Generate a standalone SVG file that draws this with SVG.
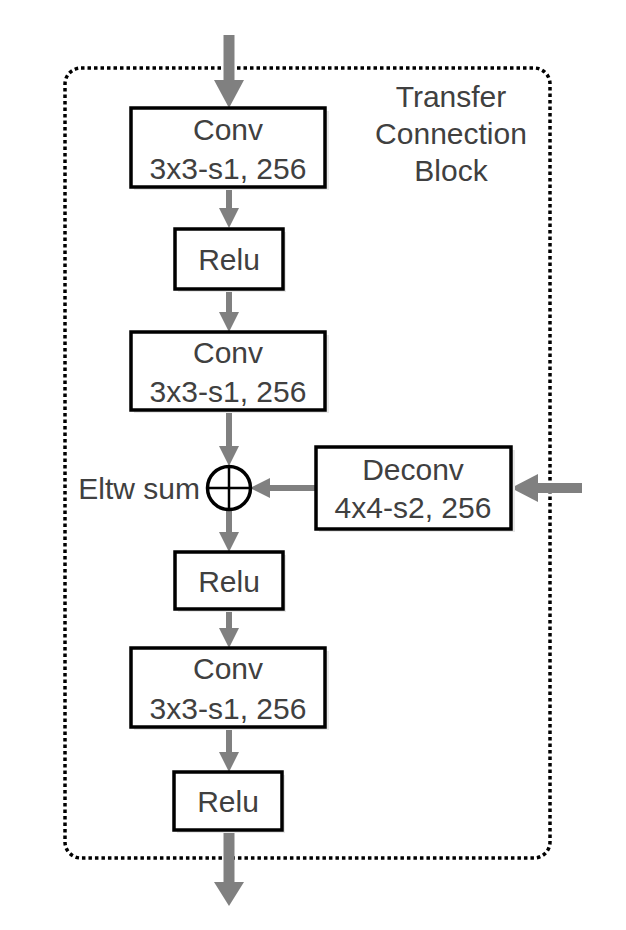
<svg xmlns="http://www.w3.org/2000/svg" width="626" height="930" viewBox="0 0 626 930">
<style>
.box{fill:#fff;stroke:#000;stroke-width:3.5}
.sh{fill:#e8e8e8}
.t{font-family:"Liberation Sans",Arial,sans-serif;font-size:30px;fill:#404040;text-anchor:middle}
.ln{stroke:#808080;fill:none}
.hd{fill:#808080}
</style>
<rect x="0" y="0" width="626" height="930" fill="#fff"/>
<rect x="65" y="68" width="485" height="790" rx="16" fill="none" stroke="#000" stroke-width="3.5" stroke-dasharray="3.5,3"/>
<g id="title"><text class="t" x="451" y="107">Transfer</text><text class="t" x="451" y="144">Connection</text><text class="t" x="451" y="181">Block</text></g>
<g id="connectors">
<line class="ln" x1="229" y1="35" x2="229" y2="84" stroke-width="11"/><polygon class="hd" points="214,80 244,80 229,108"/>
<line class="ln" x1="229" y1="187" x2="229" y2="212" stroke-width="6"/><polygon class="hd" points="219,208 239,208 229,228"/>
<line class="ln" x1="229" y1="289" x2="229" y2="316" stroke-width="6"/><polygon class="hd" points="219,312 239,312 229,332"/>
<line class="ln" x1="229" y1="410" x2="229" y2="450" stroke-width="6"/><polygon class="hd" points="219,446 239,446 229,466"/>
<line class="ln" x1="229" y1="510" x2="229" y2="536" stroke-width="6"/><polygon class="hd" points="219,532 239,532 229,552"/>
<line class="ln" x1="229" y1="609" x2="229" y2="632" stroke-width="6"/><polygon class="hd" points="219,628 239,628 229,648"/>
<line class="ln" x1="229" y1="727" x2="229" y2="756" stroke-width="6"/><polygon class="hd" points="219,752 239,752 229,772"/>
<line class="ln" x1="229" y1="830" x2="229" y2="886" stroke-width="11"/><polygon class="hd" points="214,882 244,882 229,906"/>
<line class="ln" x1="316" y1="488" x2="266" y2="488" stroke-width="6"/><polygon class="hd" points="270,478 270,498 250,488"/>
<line class="ln" x1="582" y1="488" x2="532" y2="488" stroke-width="10"/><polygon class="hd" points="538,474 538,502 511,488"/>
</g>
<g id="conv1"><rect class="sh" x="134" y="111" width="195" height="79"/><rect class="box" x="131" y="108" width="194" height="79"/><text class="t" x="228" y="140">Conv</text><text class="t" x="228" y="179">3x3-s1, 256</text></g>
<g id="relu1"><rect class="sh" x="178" y="232" width="108" height="60"/><rect class="box" x="175" y="229" width="108" height="60"/><text class="t" x="229" y="270">Relu</text></g>
<g id="conv2"><rect class="sh" x="134" y="335" width="195" height="78"/><rect class="box" x="131" y="332" width="194" height="78"/><text class="t" x="228" y="363">Conv</text><text class="t" x="228" y="402">3x3-s1, 256</text></g>
<g id="sum"><circle cx="229" cy="488" r="21.5" fill="#fff" stroke="#000" stroke-width="3.5"/><line x1="207.5" y1="488" x2="250.5" y2="488" stroke="#000" stroke-width="2.5"/><line x1="229" y1="466.5" x2="229" y2="509.5" stroke="#000" stroke-width="2.5"/><text class="t" x="200" y="499" style="text-anchor:end">Eltw sum</text></g>
<g id="deconv"><rect class="sh" x="319" y="450" width="196" height="82"/><rect class="box" x="316" y="447" width="195" height="82"/><text class="t" x="413" y="480">Deconv</text><text class="t" x="413" y="518">4x4-s2, 256</text></g>
<g id="relu2"><rect class="sh" x="178" y="555" width="108" height="57"/><rect class="box" x="175" y="552" width="108" height="57"/><text class="t" x="229" y="592">Relu</text></g>
<g id="conv3"><rect class="sh" x="134" y="651" width="195" height="79"/><rect class="box" x="131" y="648" width="194" height="79"/><text class="t" x="228" y="679">Conv</text><text class="t" x="228" y="719">3x3-s1, 256</text></g>
<g id="relu3"><rect class="sh" x="177" y="775" width="108" height="58"/><rect class="box" x="174" y="772" width="108" height="58"/><text class="t" x="228" y="812">Relu</text></g>
</svg>
